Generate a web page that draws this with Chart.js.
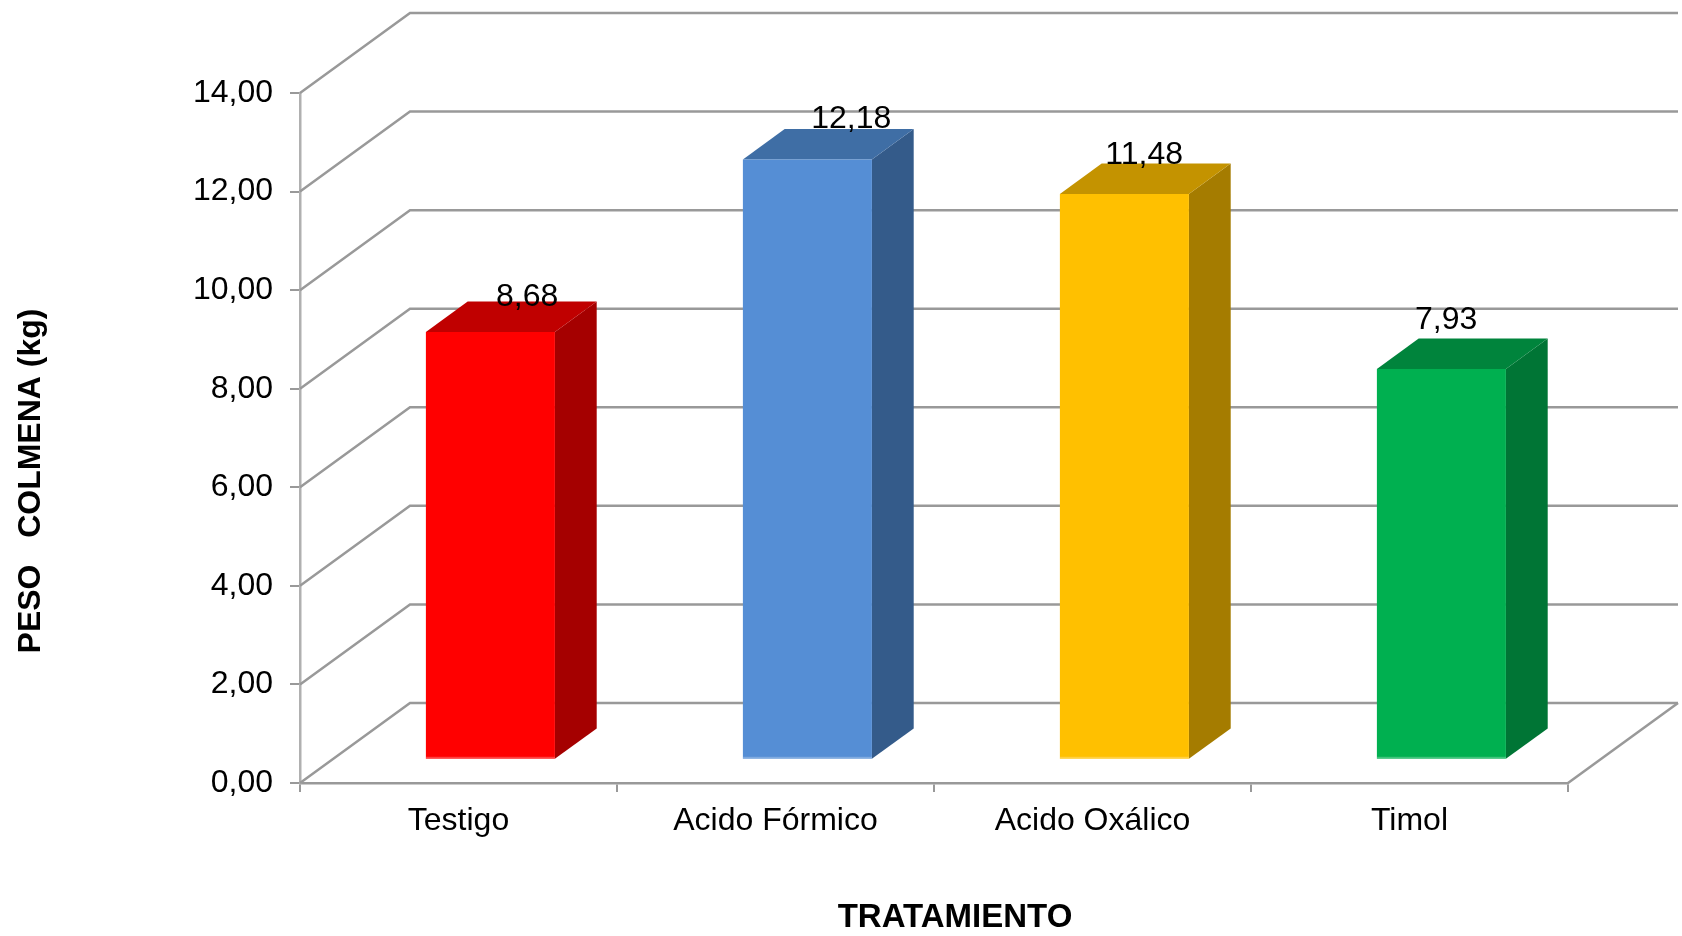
<!DOCTYPE html>
<html lang="es">
<head>
<meta charset="utf-8">
<title>Peso colmena por tratamiento</title>
<script src="https://cdn.jsdelivr.net/npm/chart.js@4/dist/chart.umd.min.js"></script>
<style>
  html, body { margin: 0; padding: 0; background: #ffffff; }
  #wrap { width: 1682px; height: 936px; position: relative; }
</style>
</head>
<body>
<div id="wrap"><canvas id="grafico-peso"></canvas></div>
<script>
// Datos del gráfico
const tratamientos = ["Testigo", "Acido Fórmico", "Acido Oxálico", "Timol"];
const pesoColmena = [8.68, 12.18, 11.48, 7.93];
const yTicks = [0, 2, 4, 6, 8, 10, 12, 14];

// Colores de cada barra: cara frontal, tapa y lateral
const coloresFrente = ["#ff0000", "#558ed5", "#ffc000", "#00b050"];
const coloresTapa = ["#c00000", "#3f6ea5", "#c49300", "#00843c"];
const coloresLado = ["#a50000", "#345b8a", "#a57c00", "#007535"];

// Ajuste fino de la posición de las etiquetas de valor (px)
const etiquetaDx = [-5, 2, -22, -37];
const etiquetaDy = [4, -1, 0, -10];

// Perspectiva: desplazamiento del fondo respecto al plano frontal
const PROF = { x: 110, y: -80 };
const BARRA_INI = 0.29;   // fracción de profundidad donde empieza la barra
const BARRA_FIN = 0.67;   // fracción donde termina
const GRIS = "#999999";
const FUENTE = "'Liberation Sans', Arial, sans-serif";

function formatoComa(v) {
    return v.toFixed(2).replace(".", ",");
}

// Paredes, rejilla del fondo y barras en 3D
const plugin3D = {
    id: "barras3d",
    beforeDatasetsDraw(chart) {
        const ctx = chart.ctx;
        const area = chart.chartArea;
        const y = chart.scales.y;
        ctx.save();
        ctx.strokeStyle = GRIS;
        ctx.lineWidth = 2.5;
        yTicks.forEach(v => {
            const py = y.getPixelForValue(v);
            ctx.beginPath();
            ctx.moveTo(area.left, py);
            ctx.lineTo(area.left + PROF.x, py + PROF.y);
            ctx.lineTo(area.right + PROF.x, py + PROF.y);
            ctx.stroke();
        });
        // borde derecho del suelo
        const py0 = y.getPixelForValue(0);
        ctx.beginPath();
        ctx.moveTo(area.right, py0);
        ctx.lineTo(area.right + PROF.x, py0 + PROF.y);
        ctx.stroke();
        ctx.restore();
    },
    afterDatasetsDraw(chart) {
        const ctx = chart.ctx;
        const meta = chart.getDatasetMeta(0);
        const fx = PROF.x * BARRA_INI, fy = PROF.y * BARRA_INI;
        const dx = PROF.x * (BARRA_FIN - BARRA_INI), dy = PROF.y * (BARRA_FIN - BARRA_INI);
        ctx.save();
        meta.data.forEach((bar, i) => {
            const L = bar.x - bar.width / 2 + fx;
            const R = bar.x + bar.width / 2 + fx;
            const T = bar.y + fy;
            const B = bar.base + fy;
            // lateral
            ctx.fillStyle = coloresLado[i];
            ctx.beginPath();
            ctx.moveTo(R, T);
            ctx.lineTo(R + dx, T + dy);
            ctx.lineTo(R + dx, B + dy);
            ctx.lineTo(R, B);
            ctx.closePath();
            ctx.fill();
            // tapa
            ctx.fillStyle = coloresTapa[i];
            ctx.beginPath();
            ctx.moveTo(L, T);
            ctx.lineTo(L + dx, T + dy);
            ctx.lineTo(R + dx, T + dy);
            ctx.lineTo(R, T);
            ctx.closePath();
            ctx.fill();
            // frente
            ctx.fillStyle = coloresFrente[i];
            ctx.fillRect(L, T, R - L, B - T);
            ctx.fillStyle = "rgba(255,255,255,0.25)";
            ctx.fillRect(L, B - 2, R - L, 2);

            // etiqueta de valor
            ctx.fillStyle = "#000000";
            ctx.font = "32px " + FUENTE;
            ctx.textAlign = "center";
            ctx.textBaseline = "alphabetic";
            ctx.fillText(formatoComa(pesoColmena[i]),
                bar.x + fx + dx + etiquetaDx[i], T + dy + etiquetaDy[i]);
        });
        ctx.restore();
    },
    afterDraw(chart) {
        const ctx = chart.ctx;
        ctx.save();
        ctx.fillStyle = "#000000";
        ctx.textAlign = "center";
        ctx.textBaseline = "middle";
        ctx.font = "bold 33px " + FUENTE;
        ctx.fillText("TRATAMIENTO", 955, 918);
        ctx.font = "bold 32px " + FUENTE;
        ctx.translate(31, 481);
        ctx.rotate(-Math.PI / 2);
        ctx.fillText("PESO   COLMENA (kg)", 0, 0);
        ctx.restore();
    }
};

const ctx = document.getElementById("grafico-peso").getContext("2d");
new Chart(ctx, {
    type: "bar",
    data: {
        labels: tratamientos,
        datasets: [{
            data: pesoColmena,
            backgroundColor: "rgba(0,0,0,0)",
            borderWidth: 0,
            categoryPercentage: 1,
            barPercentage: 0.407
        }]
    },
    options: {
        responsive: true,
        maintainAspectRatio: false,
        animation: false,
        layout: { padding: { top: 93, right: 114, left: 0, bottom: 0 } },
        plugins: {
            legend: { display: false },
            tooltip: { enabled: false }
        },
        scales: {
            x: {
                afterFit: s => { s.height = 153; },
                grid: {
                    offset: true,
                    drawOnChartArea: false,
                    drawTicks: true,
                    tickLength: 9,
                    color: GRIS,
                    lineWidth: 2
                },
                border: { display: true, color: GRIS, width: 2.5 },
                ticks: {
                    color: "#000000",
                    padding: 10,
                    maxRotation: 0,
                    font: { family: FUENTE, size: 32 }
                }
            },
            y: {
                min: 0,
                max: 14,
                afterFit: s => { s.width = 300; },
                afterBuildTicks: s => { s.ticks = yTicks.map(v => ({ value: v })); },
                grid: {
                    drawOnChartArea: false,
                    drawTicks: true,
                    tickLength: 10,
                    color: GRIS,
                    lineWidth: 2
                },
                border: { display: true, color: "#b0b0b0", width: 2.5 },
                ticks: {
                    color: "#000000",
                    padding: 17,
                    callback: v => formatoComa(v),
                    font: { family: FUENTE, size: 32 }
                }
            }
        }
    },
    plugins: [plugin3D]
});
</script>
</body>
</html>
